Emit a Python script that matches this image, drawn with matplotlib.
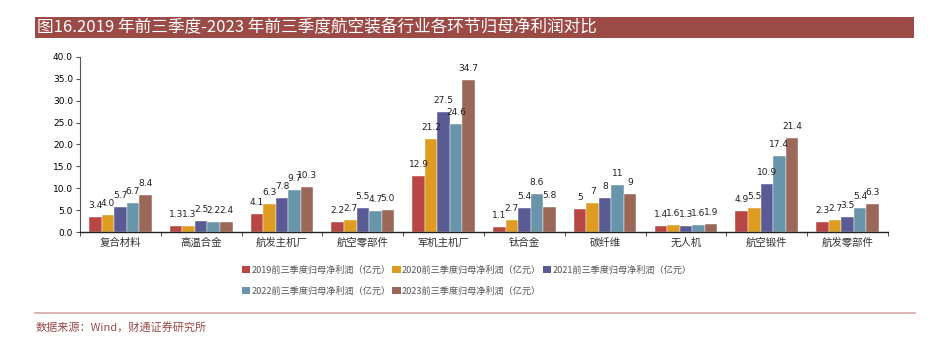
import matplotlib
matplotlib.use("Agg")
import matplotlib.pyplot as plt
import numpy as np
from matplotlib.patches import Rectangle, Patch
from matplotlib.lines import Line2D

plt.rcParams["font.family"] = ["Noto Sans CJK SC", "DejaVu Sans"]

categories = ["复合材料", "高温合金", "航发主机厂", "航空零部件", "军机主机厂",
              "钛合金", "碳纤维", "无人机", "航空锻件", "航发零部件"]
series_names = ["2019前三季度归母净利润（亿元）", "2020前三季度归母净利润（亿元）",
                "2021前三季度归母净利润（亿元）", "2022前三季度归母净利润（亿元）",
                "2023前三季度归母净利润（亿元）"]
v2019 = [3.4, 1.3, 4.1, 2.2, 12.9, 1.1, 5.2, 1.4, 4.9, 2.3]
v2020 = [4.0, 1.3, 6.3, 2.7, 21.2, 2.7, 6.6, 1.6, 5.5, 2.7]
v2021 = [5.7, 2.5, 7.8, 5.5, 27.5, 5.4, 7.8, 1.3, 10.9, 3.5]
v2022 = [6.7, 2.2, 9.7, 4.7, 24.6, 8.6, 10.8, 1.6, 17.4, 5.4]
v2023 = [8.4, 2.4, 10.3, 5.0, 34.7, 5.8, 8.7, 1.9, 21.4, 6.3]
l2019 = ["3.4", "1.3", "4.1", "2.2", "12.9", "1.1", "5", "1.4", "4.9", "2.3"]
l2020 = ["4.0", "1.3", "6.3", "2.7", "21.2", "2.7", "7", "1.6", "5.5", "2.7"]
l2021 = ["5.7", "2.5", "7.8", "5.5", "27.5", "5.4", "8", "1.3", "10.9", "3.5"]
l2022 = ["6.7", "2.2", "9.7", "4.7", "24.6", "8.6", "11", "1.6", "17.4", "5.4"]
l2023 = ["8.4", "2.4", "10.3", "5.0", "34.7", "5.8", "9", "1.9", "21.4", "6.3"]
yticks = [0, 5, 10, 15, 20, 25, 30, 35, 40]

values = [v2019, v2020, v2021, v2022, v2023]
labels = [l2019, l2020, l2021, l2022, l2023]
colors = ["#B84644", "#DE9D22", "#5A5A94", "#6995AB", "#9A6759"]

fig = plt.figure(figsize=(9.49, 3.38), dpi=100)

# title bar
fig.patches.append(Rectangle((0.0369, 0.8876), 0.9262, 0.0621, transform=fig.transFigure,
                             facecolor="#9B4A46", edgecolor="none"))
fig.text(0.039, 0.9186, "图16.2019 年前三季度-2023 年前三季度航空装备行业各环节归母净利润对比",
         color="white", fontsize=12, va="center", ha="left")

ax = fig.add_axes([0.0843, 0.3136, 0.8514, 0.5178])
x = np.arange(len(categories))
w = 0.155
for i, (vals, labs, c) in enumerate(zip(values, labels, colors)):
    pos = x + (i - 2) * w
    ax.bar(pos, vals, width=w, color=c, edgecolor="white", linewidth=0.3,
           label=series_names[i], zorder=2)
    for px, v, lab in zip(pos, vals, labs):
        ax.annotate(lab, (px, v), xytext=(0, 5), textcoords="offset points",
                    ha="center", va="bottom", fontsize=6.5, color="#222222",
                    family=["DejaVu Sans"])

ax.set_xlim(-0.5, len(categories) - 0.5)
ax.set_ylim(0, 40)
ax.set_yticks(yticks)
ax.set_yticklabels([f"{t:.1f}" for t in yticks], fontsize=6.5, family=["DejaVu Sans"])
ax.set_xticks(x)
ax.set_xticklabels(categories, fontsize=7.5, color="#333333")
ax.tick_params(axis="x", length=0, pad=4)
ax.set_xticks(np.arange(-0.5, len(categories)), minor=True)
ax.tick_params(axis="x", which="minor", length=3, direction="out", color="#333333")
ax.tick_params(axis="y", length=3, direction="out", color="#555555", pad=2)
for s in ["top", "right"]:
    ax.spines[s].set_visible(False)
ax.spines["left"].set_color("#555555")
ax.spines["bottom"].set_color("#222222")
ax.spines["bottom"].set_linewidth(1.0)

handles = [Patch(facecolor=c, edgecolor="none") for c in colors]
order = [0, 3, 1, 4, 2]
fig.legend([handles[i] for i in order], [series_names[i] for i in order],
           loc="upper left", bbox_to_anchor=(0.250, 0.228), ncol=3, frameon=False,
           fontsize=6.6, handlelength=0.9, handleheight=0.9, handletextpad=0.15,
           columnspacing=0.2, labelspacing=1.25, borderpad=0, labelcolor="#555555")

# footer
fig.lines.append(Line2D([0.037, 0.964], [0.074, 0.074], transform=fig.transFigure,
                        color="#D4A8A6", linewidth=1.2))
fig.text(0.037, 0.032, "数据来源：Wind，财通证券研究所", color="#9B4A46",
         fontsize=8, va="center", ha="left")

fig.savefig("out.png", dpi=100)
